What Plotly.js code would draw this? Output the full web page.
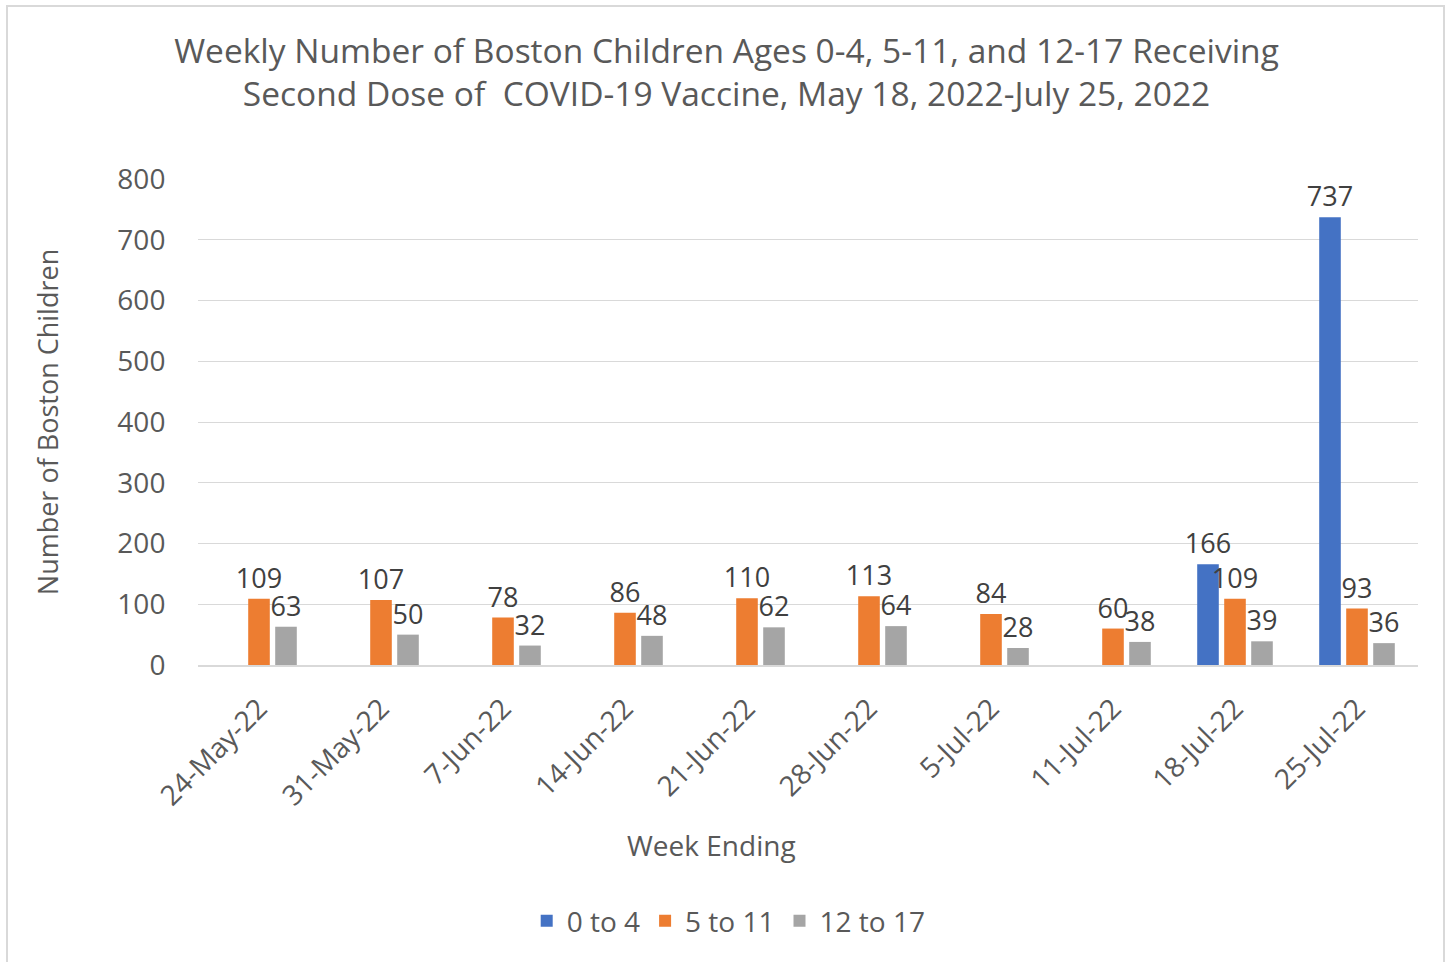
<!DOCTYPE html>
<html>
<head>
<meta charset="utf-8">
<script src="https://cdn.plot.ly/plotly-3.0.1.min.js"></script>
<style>
  html, body { margin: 0; padding: 0; background: #fff; }
  #chart { width: 1453px; height: 962px; }
  #frame { position: absolute; left: 6px; top: 5px; width: 1439px; height: 980px; border: 2px solid #d9d9d9; pointer-events: none; box-sizing: border-box; }
</style>
</head>
<body>
<div id="chart"></div>
<div id="frame"></div>
<script>
const weeks = ["24-May-22","31-May-22","7-Jun-22","14-Jun-22","21-Jun-22","28-Jun-22","5-Jul-22","11-Jul-22","18-Jul-22","25-Jul-22"];
const age0to4 = [null,null,null,null,null,null,null,null,166,737];
const age5to11 = [109,107,78,86,110,113,84,60,109,93];
const age12to17 = [63,50,32,48,62,64,28,38,39,36];

const FONT = "Open Sans, Noto Sans, sans-serif";
const TXT = "#595959";

function series(name, vals, color) {
  return {
    type: "bar", name: name, x: weeks, y: vals,
    marker: { color: color },
    text: vals.map(v => v == null ? "" : String(v)),
    textposition: "outside",
    textfont: { family: FONT, size: 27, color: "#404040" },
    constraintext: "none",
    cliponaxis: false,
    hoverinfo: "x+y+name"
  };
}

const data = [
  series("0 to 4", age0to4, "#4472C4"),
  series("5 to 11", age5to11, "#ED7D31"),
  series("12 to 17", age12to17, "#A5A5A5")
];

const layout = {
  width: 1453, height: 962,
  paper_bgcolor: "rgba(0,0,0,0)", plot_bgcolor: "#fff",
  margin: { l: 198, r: 35, t: 179, b: 297 },
  font: { family: FONT, color: TXT },
  title: {
    text: "Weekly Number of Boston Children Ages 0-4, 5-11, and 12-17 Receiving<br>Second Dose of  COVID-19 Vaccine, May 18, 2022-July 25, 2022",
    font: { family: FONT, size: 33.5, color: TXT },
    x: 0.5, xanchor: "center", yref: "container", y: 0.935, yanchor: "middle"
  },
  barmode: "group",
  bargap: 0.336,
  bargroupgap: 0.2,
  xaxis: {
    type: "category",
    tickangle: -45,
    tickfont: { family: FONT, size: 28, color: TXT },
    showgrid: false,
    showline: true, linecolor: "#d9d9d9", linewidth: 2,
    ticks: "outside", ticklen: 14, tickcolor: "rgba(0,0,0,0)"
  },
  yaxis: {
    range: [0, 800],
    dtick: 100,
    tickfont: { family: FONT, size: 28, color: TXT },
    showgrid: true, gridcolor: "#d9d9d9", gridwidth: 1,
    zeroline: false, showline: false,
    ticks: "outside", ticklen: 26, tickcolor: "rgba(0,0,0,0)",
    title: { text: "Number of Boston Children", font: { family: FONT, size: 27, color: TXT }, standoff: 50 }
  },
  annotations: [{
    text: "Week Ending", xref: "paper", yref: "paper",
    x: 0.421, xanchor: "center", y: -0.37, yanchor: "middle",
    showarrow: false, font: { family: FONT, size: 28, color: TXT }
  }],
  legend: {
    orientation: "h",
    x: 0.435, xanchor: "center",
    y: -0.527, yanchor: "middle",
    font: { family: FONT, size: 28, color: TXT },
    itemwidth: 30
  },
  showlegend: true
};

Plotly.newPlot("chart", data, layout, { displayModeBar: false, staticPlot: true });
</script>
</body>
</html>
